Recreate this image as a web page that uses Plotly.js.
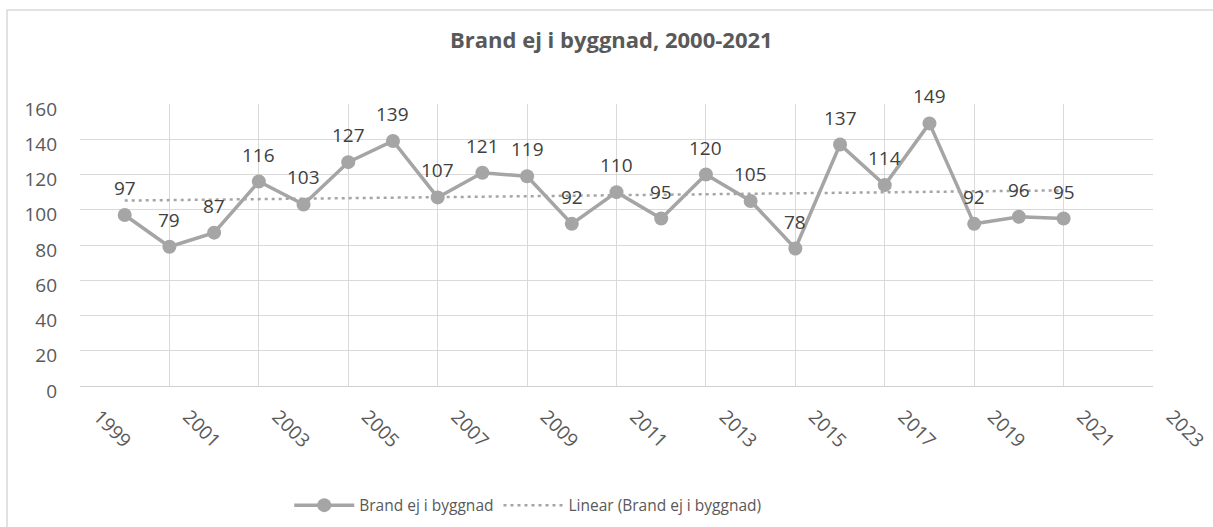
<!DOCTYPE html>
<html>
<head>
<meta charset="utf-8">
<script src="https://cdn.plot.ly/plotly-3.0.1.min.js"></script>
<style>
  html, body { margin: 0; padding: 0; background: #ffffff; }
  #chart { width: 1213px; height: 527px; }
</style>
</head>
<body>
<div id="chart"></div>
<script>
// ---- data ----
const years = [2000, 2001, 2002, 2003, 2004, 2005, 2006, 2007, 2008, 2009, 2010,
               2011, 2012, 2013, 2014, 2015, 2016, 2017, 2018, 2019, 2020, 2021];
const values = [97, 79, 87, 116, 103, 127, 139, 107, 121, 119, 92,
                110, 95, 120, 105, 78, 137, 114, 149, 92, 96, 95];
const seriesName = "Brand ej i byggnad";
const trendName = "Linear (Brand ej i byggnad)";
// trendline end points
const trendYears = [2000, 2021];
const trendValues = [105.2, 111.0];
const xTickVals = [1999, 2001, 2003, 2005, 2007, 2009, 2011, 2013, 2015, 2017, 2019, 2021, 2023];
const yTickVals = [0, 20, 40, 60, 80, 100, 120, 140, 160];
const chartTitle = "Brand ej i byggnad, 2000-2021";

const FONT = "Open Sans, Noto Sans, sans-serif";
const GRAY = "#A5A5A5";

const traces = [
  {
    x: years, y: values, name: seriesName,
    type: "scatter", mode: "lines+markers",
    line: { color: GRAY, width: 3.5 },
    marker: { color: GRAY, size: 14 },
    hoverinfo: "x+y"
  },
  {
    x: trendYears, y: trendValues, name: trendName,
    type: "scatter", mode: "lines",
    line: { color: GRAY, width: 2.5, dash: "3px,4px" },
    hoverinfo: "skip"
  }
];

// data labels placed above each point through the axes
const labelAnnotations = years.map((yr, i) => ({
  x: yr, y: values[i], xref: "x", yref: "y",
  text: String(values[i]),
  showarrow: false,
  yanchor: "middle", xanchor: "center",
  yshift: 27,
  font: { family: FONT, size: 19, color: "#404040" }
}));

const layout = {
  width: 1213, height: 527,
  margin: { l: 80, r: 60, t: 104, b: 141, autoexpand: false },
  paper_bgcolor: "#ffffff", plot_bgcolor: "#ffffff",
  font: { family: FONT, color: "#595959", size: 19 },
  title: {
    text: "<b>" + chartTitle + "</b>",
    font: { family: FONT, size: 22, color: "#595959" },
    x: 0.504, xanchor: "center",
    y: 0.924, yanchor: "middle"
  },
  xaxis: {
    range: [1999, 2023],
    automargin: false,
    tickmode: "array", tickvals: xTickVals,
    ticktext: xTickVals.map(String),
    tickangle: 45,
    showgrid: true, gridcolor: "#D9D9D9", gridwidth: 1,
    showline: true, linecolor: "#D0D0D0", linewidth: 1, mirror: false,
    zeroline: false,
    ticks: "",
    tickfont: { family: FONT, size: 19, color: "#595959" },
    ticklabelshift: 19,
    ticklabelstandoff: 11,
    ticklabeloverflow: "allow"
  },
  yaxis: {
    range: [0, 160],
    automargin: false,
    tickmode: "array", tickvals: yTickVals,
    showgrid: true, gridcolor: "#D9D9D9", gridwidth: 1,
    zeroline: false, showline: false,
    ticks: "",
    tickfont: { family: FONT, size: 19, color: "#595959" },
    ticklabelstandoff: 22,
    ticklabelshift: 5
  },
  showlegend: true,
  legend: {
    orientation: "h",
    x: 0.195, xanchor: "left",
    y: -0.424, yanchor: "middle",
    font: { family: FONT, size: 15.5, color: "#595959" },
    itemwidth: 60,
    bgcolor: "rgba(0,0,0,0)"
  },
  annotations: labelAnnotations,
  shapes: [
    {
      type: "rect", xref: "paper", yref: "paper",
      x0: -0.068, x1: 1.07, y0: -0.6, y1: 1.333,
      line: { color: "#D9D9D9", width: 1.5 },
      fillcolor: "rgba(0,0,0,0)", layer: "below"
    }
  ]
};

Plotly.newPlot("chart", traces, layout, { staticPlot: true, displayModeBar: false });
</script>
</body>
</html>
